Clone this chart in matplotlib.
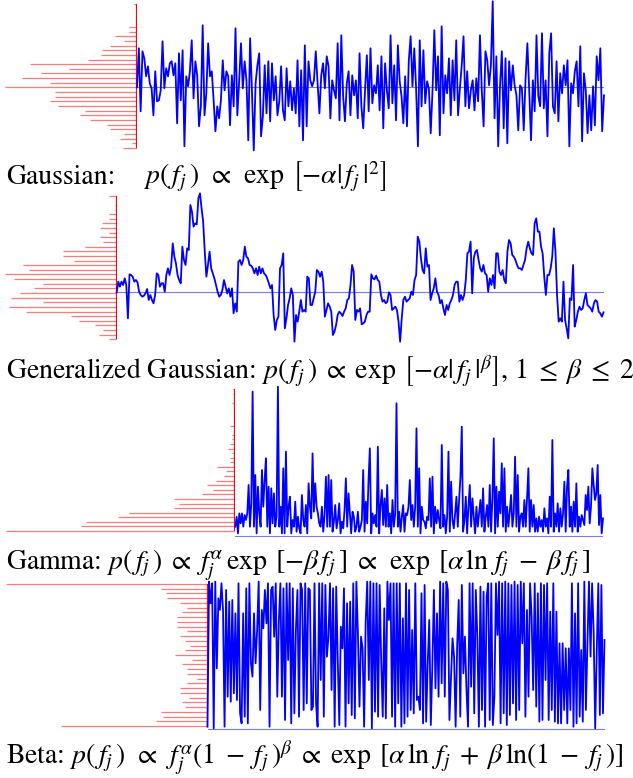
import matplotlib
matplotlib.use("Agg")
import matplotlib.pyplot as plt
import numpy as np

plt.rcParams["mathtext.fontset"] = "stix"
plt.rcParams["font.family"] = ["STIXGeneral", "DejaVu Serif"]

FIG_W, FIG_H = 633, 778

# ---- data (signal values, zero = reference line) ----
gauss_signal = [
    0, 39, -24, 36, 29, 11, 21, 4, -1, -28, 16, -14, -13, -3, 46, -1, 19, 11, 24, 26,
    12, 24, -36, 34, -13, 37, -59, 11, 1, 16, 47, -11, 26, 12, -39, -19, 62, -28, -6, 44,
    11, 16, -13, -44, -19, -31, -13, 27, -3, 16, 11, -38, 12, -19, 59, -28, 6, 44, -1, 26,
    7, -53, 49, -3, -63, 4, 22, 34, -49, -29, 22, -26, 26, -34, 24, -13, 11, -28, -14, 21,
    -23, -33, 19, -19, 6, -23, -1, -26, 27, -39, 17, -53, 42, -39, 26, 7,
    1, 7, 36, 4, -26, 12, 24, -1, 31, 21, -31, 7, -3, -11, 44, -33, 52, -9, -34, 4,
    16, -28, 12, -8, 7, -31, 34, -19, -41, -3, 32, -24, 39, -16, 2, -6, 22, -23, 31, -41,
    24, -3, -21, 52, -16, 22, -33, 42, 6, -9, -36, 11, -39, 27, 51, 1, 39, -1, -59, 47,
    -19, 37, -16, 6, -1, -46, -3, 57, -3, 31, -48, 61, -26, 12, -6, 29, -28, 27, -13, 47,
    -28, -1, 22, 51, -19, 16, -21, -3, 7, -23, 9, -14, 52, -3, -39, 36, 27, 2, 22, 86,
    -31, 31, -59, 1, 36, -41, 29, -56, 26, -3, 22, 2, -8, -43, 2, -1, -43, 9, 44, -3,
    -53, 7, -24, 52, -9, -19, 54, -21, 7, -49, 34, 54, -19, -26, 26, -34, 14, -6, 22, 2,
    27, -59, 4, -6, 16, 26, -19, 41, -54, 14, -3, -46, -8, -43, 1, -38, 31, 7, 39, -44, -8,
]
gauss_hist = [3, 0, 0, 0, 0, 8, 8, 22, 13, 27, 35, 36, 49, 107, 68, 96,
              115, 87, 132, 82, 82, 87, 79, 52, 57, 47, 30, 27, 13, 17, 5, 14]

gengauss_signal = [
    0, 32, 17, 32, 22, 42, 22, -78, 54, 52, 47, 32, 37, 30, 2, -8, -13, -10, -3, 10,
    -23, -8, -23, -33, -8, 57, 52, 17, 27, 27, 2, 52, 72, 52, 77, 147, 107, 87, 52, 37,
    27, 137, 97, 82, 132, 127, 262, 242, 197, 207, 204, 282, 297, 252, 212, 122, 47, 82, 122, 72,
    57, 42, 22, 2, -13, -8, 7, 37, 17, -3, 12, -13, 12, -63, -33, -58, 92, 97, 82, 97,
    137, 107, 102, 82, 80, 72, 57, 72, 52, 77, 57, 72, 57, 52, 42, 27, 12, 22, -68, -113,
    -83, -73, 72, 82, 117, -108, -78, -38, -18, 12, -8, -148, -68, -88, -58, -23, -58, -53, -58, 47,
    42, -38, -38, -18, 2, 67, 62, 47, 62, 32,
    -73, -53, -33, -43, -58, -128, -118, -98, -68, -58, -63, -71, -58, -48, -23, -18, 22, 82, 62, -83,
    -53, -58, -48, -96, -93, -88, -68, -58, -58, 54, 42, 39, 50, 37, 32, -8, -28, -23, -33, -28,
    0, -8, -53, -48, -43, -53, -88, -148, -78, -23, -13, -28, -23, -18, 2, -8, 37, 52, 167, 152,
    102, 67, 57, 132, 77, 82, -23, -3, 12, 42, 2, -8, -33, -23, -48, -68, -38, -53, -33, -23,
    -8, 22, 32, 32, -28, -8, -23, -8, 37, 117, 122, 152, -3, 102, 122, 127, 97, 72, 62, 82,
    57, 52, 2, 42, 22, 52, 12, 117, 117, 62, 52, 67, 37, 27, 122, 157, 147, 112, 107, 97,
    82, 72, 72, 67, 82, 97, 132, 152, 132, 117, 112, 207, 222, 182, 182, 137, 117, 47, -8, 52,
    52, 72, 107, 192, 122, -8, -88, -78, -88, 32, -83, -108, -138, -18, -23, 82, -103, -83, -58, -43,
    -53, -48, -23, -3, -38, -43, -48, -58, -33, -23, -28, -58, -63, -73, -60,
]
gengauss_hist = [8, 0, 2, 2, 8, 8, 15, 17, 8, 17, 14, 32, 54, 54, 43, 94,
                 88, 112, 103, 74, 83, 97, 106, 74, 108, 91, 46, 38, 22, 14, 18, 8]

gamma_signal = [
    27, 57, 7, 67, 37, 67, 27, 62, 47, 67, 152, 27, 97, 432, 27, 182, 7, 147, 67, 27,
    197, 87, 167, 232, 27, 147, 7, 142, 37, 127, 27, 57, 447, 27, 87, 7, 202, 7, 252, 27,
    87, 117, 7, 47, 27, 102, 12, 57, 22, 7, 122, 47, 27, 92, 7, 157, 87, 52, 247, 72,
    157, 87, 67, 37,
    27, 87, 12, 62, 177, 27, 182, 27, 167, 12, 42, 92, 22, 47, 97, 7, 42, 22, 77, 172,
    27, 127, 67, 7, 72, 57, 12, 27, 72, 12, 27, 47, 197, 12, 102, 37, 167, 262, 7, 67,
    37, 62, 27, 267, 7, 92, 137, 32, 112, 27, 152, 27, 67, 7, 107, 27, 67, 397, 27, 72,
    12, 57, 92, 12, 67, 62, 87, 167, 47, 92, 27, 87, 322, 27, 202, 7, 87, 47, 42, 22,
    57, 47, 172, 27, 177, 7, 87, 37, 77, 47, 22, 272, 27, 62, 7, 57, 252, 12, 162, 47,
    22, 67, 117, 27, 107, 177, 327, 12, 47, 117, 7, 87, 152, 27, 112, 57, 7, 87, 27, 67,
    107, 27, 142, 12, 57, 92, 27, 152, 12, 112, 292, 7, 147, 27, 132, 67, 217, 27, 202, 12,
    87, 27, 72, 122, 27, 67, 237, 27, 182, 12, 57, 67, 27, 107, 27, 117, 202, 12, 107, 27,
    92, 12, 52, 12, 57, 27, 47, 12, 82, 27, 52, 7, 117, 27, 287, 12, 67, 27, 97, 12,
    82, 27, 67, 162, 12, 147, 197, 27, 87, 12, 102, 27, 157, 12, 57, 27, 62, 47, 32, 122,
    77, 147, 37, 87, 202, 152, 107, 127, 212, 32, 122, 7, 52,
]
gamma_hist = [2, 2, 0, 3, 0, 0, 0, 0, 5, 0, 3, 3, 5, 7, 3, 5,
              5, 18, 9, 11, 19, 28, 22, 33, 61, 56, 61, 106, 117, 149, 154, 229]

beta_signal = [
    7, 442, 377, 437, 2, 442, 182, 392, 357, 437, 357, 7, 417, 97, 382, 82, 387, 107, 347, 87,
    437, 47, 17, 347, 37, 422, 17, 437, 197, 157, 347, 197, 297, 442, 57, 357, 302, 417, 317, 437,
    7, 417, 427, 277, 437, 97, 322, 437, 97, 422, 27, 437, 207, 437, 17, 422, 47, 297, 417, 37,
    437, 417, 57, 437, 77, 422, 417, 57, 67, 437, 77, 7, 437, 147, 437, 37, 432, 217, 277, 437,
    117, 422, 7, 427, 207,
    12, 307, 242, 422, 7, 377, 77, 382, 42, 437, 32, 442, 287, 67, 277, 242, 7, 322, 442, 147,
    442, 2, 437, 52, 437, 37, 432, 207, 37, 362, 32, 442, 327, 437, 37, 437, 7, 437, 77, 437,
    7, 332, 17, 437, 37, 417, 57, 297, 47, 437, 87, 97, 57, 407, 17, 432, 22, 197, 327, 12,
    192, 417, 122, 347, 97, 442, 137, 437, 97, 442, 417, 27, 147, 272, 217, 7, 252, 387, 37, 432,
    167, 277, 117, 7, 437, 127, 437, 47, 417, 277, 7, 427, 57, 412, 7, 397, 437, 27, 437, 12,
    97, 437, 282, 442, 17, 437, 47, 442, 12, 437, 42, 432, 77, 442, 27, 432, 57, 442, 257, 437,
    37, 357, 97, 437, 337, 117, 437, 67, 407, 22, 437, 27, 432, 147, 437, 27, 352, 57, 437, 22,
    352, 17, 257, 17, 257, 57, 242, 17, 242, 57, 437, 7, 347, 17, 437, 37, 237, 22, 442, 57,
    257, 442, 217, 437, 292, 2, 232, 437, 42, 432, 47, 267,
]
beta_hist = [202, 47, 42, 41, 28, 21, 26, 31, 31, 31, 21, 28, 23, 18, 23, 33,
             16, 26, 21, 21, 11, 21, 28, 28, 19, 26, 23, 47, 45, 52, 147]

labels = [
    ("Gaussian:",
     r"$p(\,f_j\,)\;\,\propto\;\,\exp\;\left[-\alpha|\,f_j\,|^2\right]$"),
    (r"Generalized Gaussian: $p(\,f_j\,)\;\propto\;\exp\;\left[-\alpha|\,f_j\,|^{\beta}\right],"
     r"\,1\;\leq\;\beta\;\leq\;2$", None),
    (r"Gamma: $p(\,f_j\,)\;\propto\;f_j^{\alpha}\,\exp\;[-\beta\,f_j\,]\;\propto\;\,"
     r"\exp\;[\alpha\,\ln\,f_j\;-\;\beta\,f_j\,]$", None),
    (r"Beta: $p(\,f_j\,)\;\,\propto\;\,f_j^{\alpha}(1\;-\;f_j\,)^{\beta}\;\propto\;"
     r"\exp\;[\alpha\,\ln\,f_j\;+\;\beta\,\ln(1\;-\;f_j\,)]$", None),
]


def px_axes(fig, left, top, right, bottom):
    """Axes placed with pixel coordinates (origin top-left)."""
    ax = fig.add_axes([left / FIG_W, 1 - bottom / FIG_H,
                       (right - left) / FIG_W, (bottom - top) / FIG_H])
    ax.set_axis_off()
    return ax


def draw_panel(fig, signal, counts, box, split, ylim):
    """Histogram turned sideways on the left, signal trace on the right."""
    left, top, right, bottom = box
    signal = np.asarray(signal, dtype=float)
    counts = np.asarray(counts, dtype=float)

    ax_h = px_axes(fig, left, top, split, bottom)
    ax_s = px_axes(fig, split, top, right, bottom)
    ax_h.set_ylim(*ylim)
    ax_s.set_ylim(*ylim)

    edges = np.linspace(signal.min(), signal.max(), len(counts) + 1)
    centers = ((edges[:-1] + edges[1:]) / 2)[::-1]
    ax_h.hlines(centers, 0, counts, color="#ff7b7b", lw=0.9)
    ax_h.vlines(0, centers.min(), centers.max(), color="red", lw=1.6)
    ax_h.set_xlim(split - left, 0)

    x = np.arange(len(signal))
    ax_s.axhline(0, color="#7878ff", lw=0.8)
    ax_s.plot(x, signal, color="blue", lw=1.3, clip_on=False)
    ax_s.set_xlim(0, len(signal) - 1)


fig = plt.figure(figsize=(FIG_W / 100, FIG_H / 100), dpi=100)

draw_panel(fig, gauss_signal, gauss_hist, (0, 0, 604, 152), 137, (-64.7, 87.3))
draw_panel(fig, gengauss_signal, gengauss_hist, (0, 190, 603.5, 345), 116.7, (-158, 307))
draw_panel(fig, gamma_signal, gamma_hist, (0, 383.3, 603, 536.7), 235.3, (-3, 457))
draw_panel(fig, beta_signal, beta_hist, (0, 578.3, 604.5, 731.7), 207.5, (-8, 452))

baselines = [184, 379, 570, 764]
for (text, formula), y in zip(labels, baselines):
    fig.text(6 / FIG_W, 1 - y / FIG_H, text, fontsize=20, va="baseline")
    if formula:
        fig.text(143 / FIG_W, 1 - y / FIG_H, formula, fontsize=20, va="baseline")

fig.savefig("out.png", dpi=100)
